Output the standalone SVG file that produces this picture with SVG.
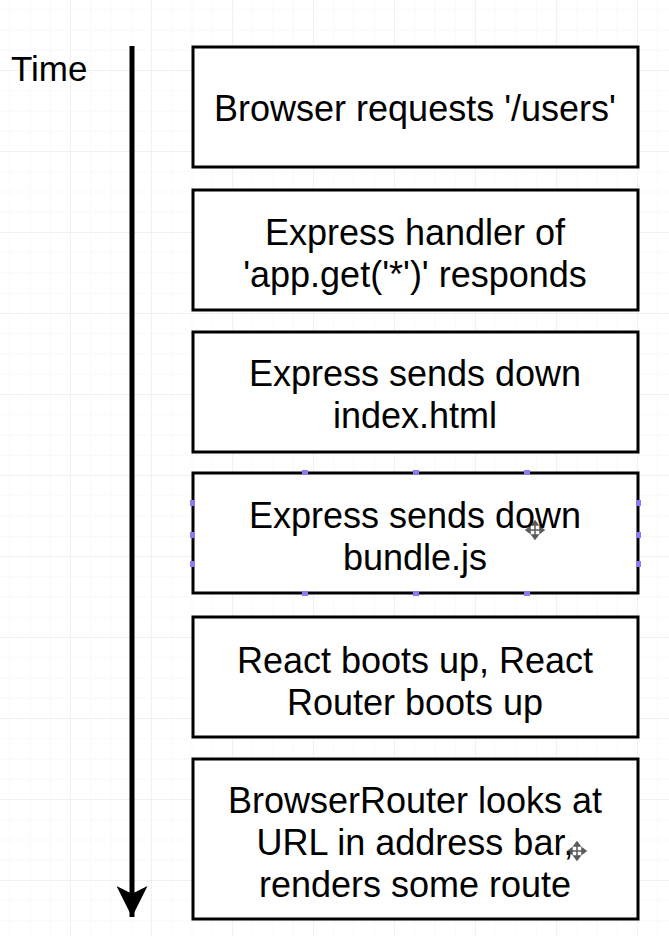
<svg xmlns="http://www.w3.org/2000/svg" width="669" height="936" viewBox="0 0 669 936">
<defs>
<pattern id="minor" width="20.25" height="20.25" patternUnits="userSpaceOnUse" x="-10" y="-10">
<path d="M20.25 0V20.25H0" fill="none" stroke="#f3f3f6" stroke-width="1"/>
</pattern>
<pattern id="major" width="81" height="81" patternUnits="userSpaceOnUse" x="-10" y="-10">
<path d="M81 0V81H0" fill="none" stroke="#e8e8ee" stroke-width="1"/>
</pattern>
<marker id="ah" viewBox="0 0 10 10" refX="10" refY="5" markerWidth="6.4" markerHeight="6.2" markerUnits="strokeWidth" orient="auto">
<path d="M0 0L10 5L0 10L2.5 5Z" fill="#000"/>
</marker>
</defs>
<style>
.box{fill:#fff;stroke:#000;stroke-width:3}
.t{font-family:"Liberation Sans",Arial,sans-serif;font-size:36px;fill:#000;text-anchor:middle}
.h{fill:#8a7cf0}
</style>
<rect width="669" height="936" fill="#fff"/>
<rect width="669" height="936" fill="url(#minor)"/>
<rect width="669" height="936" fill="url(#major)"/>
<text x="11" y="81" style="font-family:'Liberation Sans',Arial,sans-serif;font-size:35px;fill:#000">Time</text>
<g id="connectors">
<line x1="132" y1="46" x2="132" y2="917" stroke="#000" stroke-width="5" marker-end="url(#ah)"/>
</g>
<g id="n1">
<rect class="box" x="193" y="47" width="445" height="120"/>
<text class="t" x="415" y="121">Browser requests '/users'</text>
</g>
<g id="n2">
<rect class="box" x="193" y="190" width="445" height="120"/>
<text class="t" x="415" y="245">Express handler of</text>
<text class="t" x="415" y="287">'app.get('*')' responds</text>
</g>
<g id="n3">
<rect class="box" x="193" y="332" width="445" height="120"/>
<text class="t" x="415" y="386">Express sends down</text>
<text class="t" x="415" y="428">index.html</text>
</g>
<g id="n4">
<rect class="box" x="193" y="473" width="445" height="120"/>
<text class="t" x="415" y="528">Express sends down</text>
<text class="t" x="415" y="570">bundle.js</text>
<g class="h">
<rect x="302" y="470" width="6" height="5"/><rect x="413" y="470" width="6" height="5"/><rect x="524" y="470" width="6" height="5"/>
<rect x="302" y="591" width="6" height="5"/><rect x="413" y="591" width="6" height="5"/><rect x="524" y="591" width="6" height="5"/>
<rect x="190" y="500" width="5" height="6"/><rect x="190" y="532" width="5" height="6"/><rect x="190" y="561" width="5" height="6"/>
<rect x="636" y="500" width="5" height="6"/><rect x="636" y="532" width="5" height="6"/><rect x="636" y="561" width="5" height="6"/>
</g>
<path d="M535 523V537M528 530H542M535 521l-3 4h6zM535 539l-3-4h6zM526 530l4-3v6zM544 530l-4-3v6z" stroke="#333" stroke-width="1.5" fill="#333" opacity="0.8"/>
</g>
<g id="n5">
<rect class="box" x="193" y="617" width="445" height="120"/>
<text class="t" x="415" y="673">React boots up, React</text>
<text class="t" x="415" y="715">Router boots up</text>
</g>
<g id="n6">
<rect class="box" x="193" y="759" width="445" height="160"/>
<text class="t" x="415" y="813">BrowserRouter looks at</text>
<text class="t" x="415" y="855">URL in address bar,</text>
<text class="t" x="415" y="897">renders some route</text>
<path d="M577 844V858M570 851H584M577 842l-3 4h6zM577 860l-3-4h6zM568 851l4-3v6zM586 851l-4-3v6z" stroke="#333" stroke-width="1.5" fill="#333" opacity="0.8"/>
</g>
</svg>
